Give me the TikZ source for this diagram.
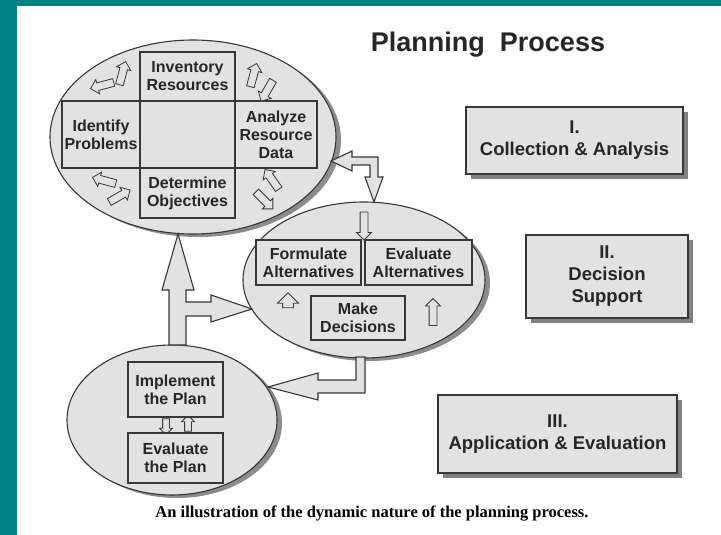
\documentclass[tikz,border=0pt]{standalone}
\usepackage{fontspec}
\setmainfont{Liberation Sans}
\newfontfamily\captionfont{Liberation Serif}
\usetikzlibrary{shapes.geometric,shapes.arrows,shadows,positioning}
\definecolor{slidecol}{RGB}{0,128,128}
\definecolor{paper}{RGB}{226,226,226}
\definecolor{inkcol}{RGB}{55,55,55}

\begin{document}
\begin{tikzpicture}[x=1pt,y=-1pt,
    bubble/.style={ellipse,draw=inkcol,line width=1.1pt,fill=paper,inner sep=0pt,
        drop shadow={shadow xshift=5pt,shadow yshift=-3pt,fill=black!45,opacity=1}},
    cell/.style={draw=inkcol,line width=1.1pt,fill=paper,align=center,inner sep=0pt,outer sep=0pt,
        text=black!85,font=\fontsize{16}{18}\selectfont\bfseries},
    phase/.style={draw=inkcol,line width=1.1pt,fill=paper,align=center,inner sep=0pt,
        text=black!85,font=\fontsize{18.5}{22}\selectfont\bfseries,
        drop shadow={shadow xshift=5pt,shadow yshift=-5pt,fill=black!50,opacity=1}},
    flow/.style={draw=inkcol,line width=1.1pt,fill=paper,line join=miter},
    tick/.style={single arrow,draw=inkcol,line width=0.8pt,fill=paper,inner xsep=0pt,inner ysep=3.5pt,
        minimum height=24pt,single arrow head extend=3.5pt,single arrow head indent=0pt}]
    % slide frame
    \fill[white] (0,0) rectangle (721,535);
    \fill[slidecol] (0,0) rectangle (17,535);
    \fill[slidecol] (0,0) rectangle (721,6);
    \useasboundingbox (0,0) rectangle (721,535);

    % the three stages
    \node[bubble,minimum width=286pt,minimum height=194pt] (collect) at (193,137) {};
    \node[bubble,minimum width=242pt,minimum height=156pt] (decide) at (364,280) {};
    \node[bubble,minimum width=210pt,minimum height=150pt] (apply) at (172,420) {};

    % big arrows between the stages
    \coordinate (upTip) at (178,234);
    \coordinate (sideTip) at (252,309);
    \coordinate (backTip) at (331,161);
    \coordinate (downTip) at (374,202);
    \coordinate (leftTip) at (268,387);
    \draw[flow] (upTip) -- (194,290) -- (186,290) -- (186,302) -- (211,302) -- (211,295) -- (sideTip)
        -- (211,322) -- (211,316) -- (186,316) -- (186,345) -- (169,345) -- (169,290) -- (162,290) -- cycle;
    \draw[flow] (backTip) -- (352,151) -- (352,157) -- (378,157) -- (378,177) -- (383,177) -- (downTip)
        -- (365,177) -- (370,177) -- (370,165) -- (352,165) -- (352,171) -- cycle;
    \draw[flow] (356,357) -- (356,380) -- (318,380) -- (318,373) -- (leftTip) -- (318,400)
        -- (318,393) -- (365,393) -- (365,357) -- cycle;

    % collection & analysis
    \node[cell,minimum width=95pt,minimum height=67pt] (hub) at (187.5,134.5) {};
    \node[cell,minimum width=95pt,minimum height=49pt,above=0pt of hub] (inventory) {Inventory\\Resources};
    \node[cell,minimum width=78pt,minimum height=67pt,left=0pt of hub] (identify) {Identify\\Problems};
    \node[cell,minimum width=82pt,minimum height=67pt,right=0pt of hub] (analyze) {Analyze\\Resource\\Data};
    \node[cell,minimum width=95pt,minimum height=50pt,below=0pt of hub] (determine) {Determine\\Objectives};
    \node[tick,rotate=195] (ulA) at (104,85) {};
    \node[tick,rotate=75] (ulB) at (122,75) {};
    \node[tick,rotate=75] (urA) at (253,77) {};
    \node[tick,rotate=240] (urB) at (268,89) {};
    \node[tick,rotate=165] (llA) at (106,181) {};
    \node[tick,rotate=30] (llB) at (118,197) {};
    \node[tick,rotate=125] (lrA) at (273,181) {};
    \node[tick,rotate=-45] (lrB) at (263,199) {};

    % decision support
    \node[cell,minimum width=105pt,minimum height=45pt] (formulate) at (308.5,262.5) {Formulate\\Alternatives};
    \node[cell,minimum width=107pt,minimum height=45pt,right=4pt of formulate] (weigh) {Evaluate\\Alternatives};
    \node[cell,minimum width=94pt,minimum height=44pt] (make) at (358,318) {Make\\Decisions};
    \node[tick,rotate=270,minimum height=28pt] (topTick) at (364,224) {};
    \node[tick,rotate=90,minimum height=15pt,inner ysep=5pt,single arrow head extend=5pt] (leftTick) at (288,303) {};
    \node[tick,rotate=90,minimum height=27pt] (rightTick) at (433,314) {};

    % application & evaluation
    \node[tick,rotate=270,minimum height=16pt,inner ysep=3pt,single arrow head extend=3pt] (downTick) at (166,425) {};
    \node[tick,rotate=90,minimum height=16pt,inner ysep=3pt,single arrow head extend=3pt] (upTick) at (188,425) {};
    \node[cell,minimum width=95pt,minimum height=55pt] (implement) at (175.5,389.5) {Implement\\the Plan};
    \node[cell,minimum width=95pt,minimum height=50pt,below=16pt of implement] (review) {Evaluate\\the Plan};

    % phase labels
    \node[phase,minimum width=217pt,minimum height=67pt] (phaseA) at (574.5,140.5) {I.\\Collection \& Analysis};
    \node[phase,minimum width=162pt,minimum height=83pt] (phaseB) at (607,276.5) {II.\\Decision\\Support};
    \node[phase,minimum width=239pt,minimum height=78pt] (phaseC) at (557.5,434) {III.\\Application \& Evaluation};

    \node[anchor=base,text=black!85,font=\fontsize{27}{30}\selectfont\bfseries] (title) at (488,52) {Planning~~Process};
    \node[anchor=base,font=\captionfont\fontsize{16.5}{19}\selectfont\bfseries] (caption) at (372,517)
        {An illustration of the dynamic nature of the planning process.};
\end{tikzpicture}
\end{document}
